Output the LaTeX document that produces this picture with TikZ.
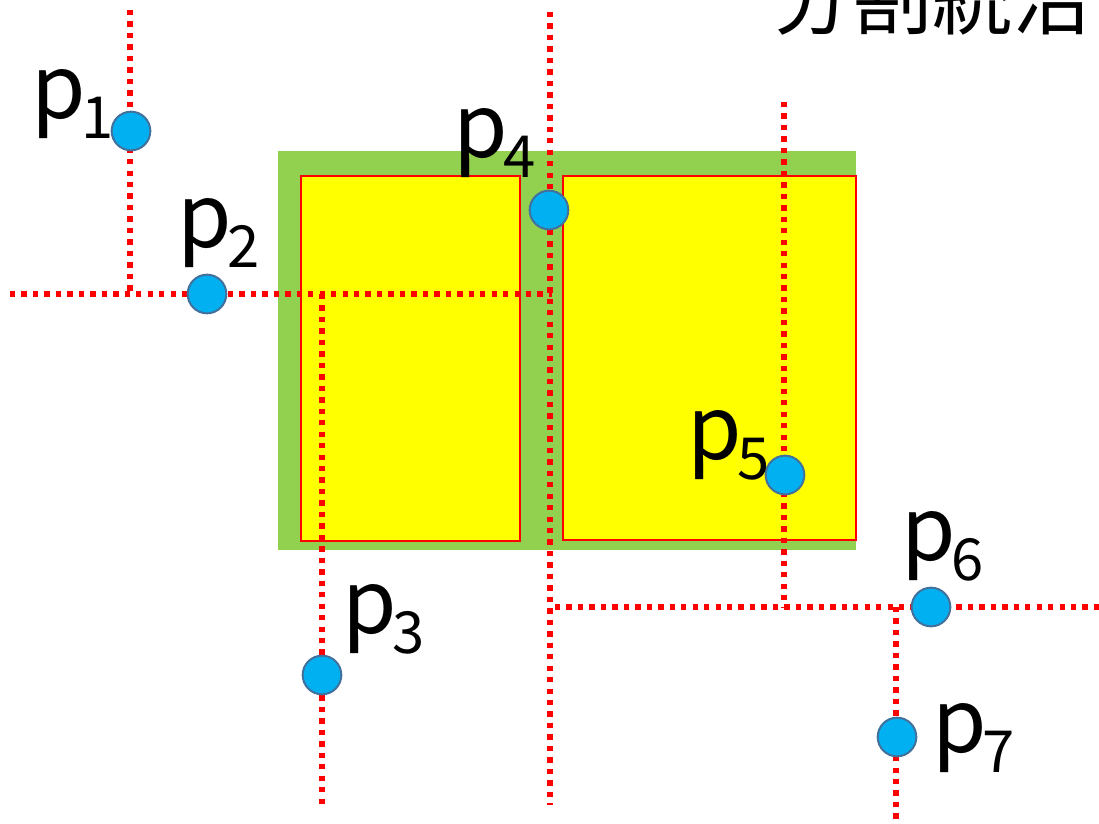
\documentclass[tikz,border=0pt]{standalone}
\usepackage{fontspec}
\newfontfamily\cjk{Noto Sans CJK JP}
\definecolor{grn}{HTML}{92D050}
\definecolor{ylw}{HTML}{FFFF00}
\definecolor{rd}{HTML}{FF0000}
\definecolor{ptfill}{HTML}{00B0F0}
\definecolor{ptdraw}{HTML}{41719C}
\newcommand\plab[1]{{\fontsize{66}{66}\selectfont p}\kern-3pt\raisebox{-15pt}{\fontsize{43.5}{43.5}\selectfont #1}}
\begin{document}
\begin{tikzpicture}[x=0.75pt,y=-0.75pt,
  cut/.style={draw=rd,line width=4.2pt,dash pattern=on 4pt off 4.6pt},
  pt/.style={circle,fill=ptfill,draw=ptdraw,line width=1.5pt,minimum size=29pt,inner sep=0pt},
  lab/.style={font=\cjk,inner sep=0pt,anchor=base west},
  box/.style={fill=ylw,draw=rd,line width=1.6pt}]
\useasboundingbox (0,0) rectangle (1099,824);
\clip (0,0) rectangle (1099,824);
% regions
\fill[grn] (278,151) rectangle (856,550);
\draw[box] (301,176) rectangle (520,541);
\draw[box] (563,176) rectangle (856,540);
% title
\node[font=\cjk\fontsize{60}{60}\selectfont,inner sep=0pt,anchor=base west] (title) at (772,29) {分割統治};
% line end points
\coordinate (c1t) at (130,10);
\coordinate (c1b) at (130,294);
\coordinate (c2l) at (10,294);
\coordinate (c2r) at (552,294);
\coordinate (c3t) at (322,294);
\coordinate (c3b) at (322,805);
\coordinate (c4t) at (550,12);
\coordinate (c4b) at (550,805);
\coordinate (c5t) at (784,102);
\coordinate (c5b) at (784,607);
\coordinate (c6l) at (555,607);
\coordinate (c6r) at (1099,607);
\coordinate (c7t) at (896,607);
\coordinate (c7b) at (896,824);
% cut lines
\draw[cut] (c1t) -- (c1b);
\draw[cut] (c2l) -- (c2r);
\draw[cut] (c3t) -- (c3b);
\draw[cut] (c4t) -- (c4b);
\draw[cut] (c5t) -- (c5b);
\draw[cut] (c6l) -- (c6r);
\draw[cut] (c7t) -- (c7b);
% point nodes
\node[pt] (p1) at (131,131) {};
\node[pt] (p2) at (207,294) {};
\node[pt] (p3) at (322,675) {};
\node[pt] (p4) at (549,210) {};
\node[pt] (p5) at (785,475) {};
\node[pt] (p6) at (931,607) {};
\node[pt] (p7) at (897,737) {};
% labels
\node[lab] (l1) at (31,118) {\plab{1}};
\node[lab] (l2) at (177,247) {\plab{2}};
\node[lab] (l3) at (342,633) {\plab{3}};
\node[lab] (l4) at (453,157) {\plab{4}};
\node[lab] (l5) at (687,459) {\plab{5}};
\node[lab] (l6) at (901,560) {\plab{6}};
\node[lab] (l7) at (932,752) {\plab{7}};
\end{tikzpicture}
\end{document}
